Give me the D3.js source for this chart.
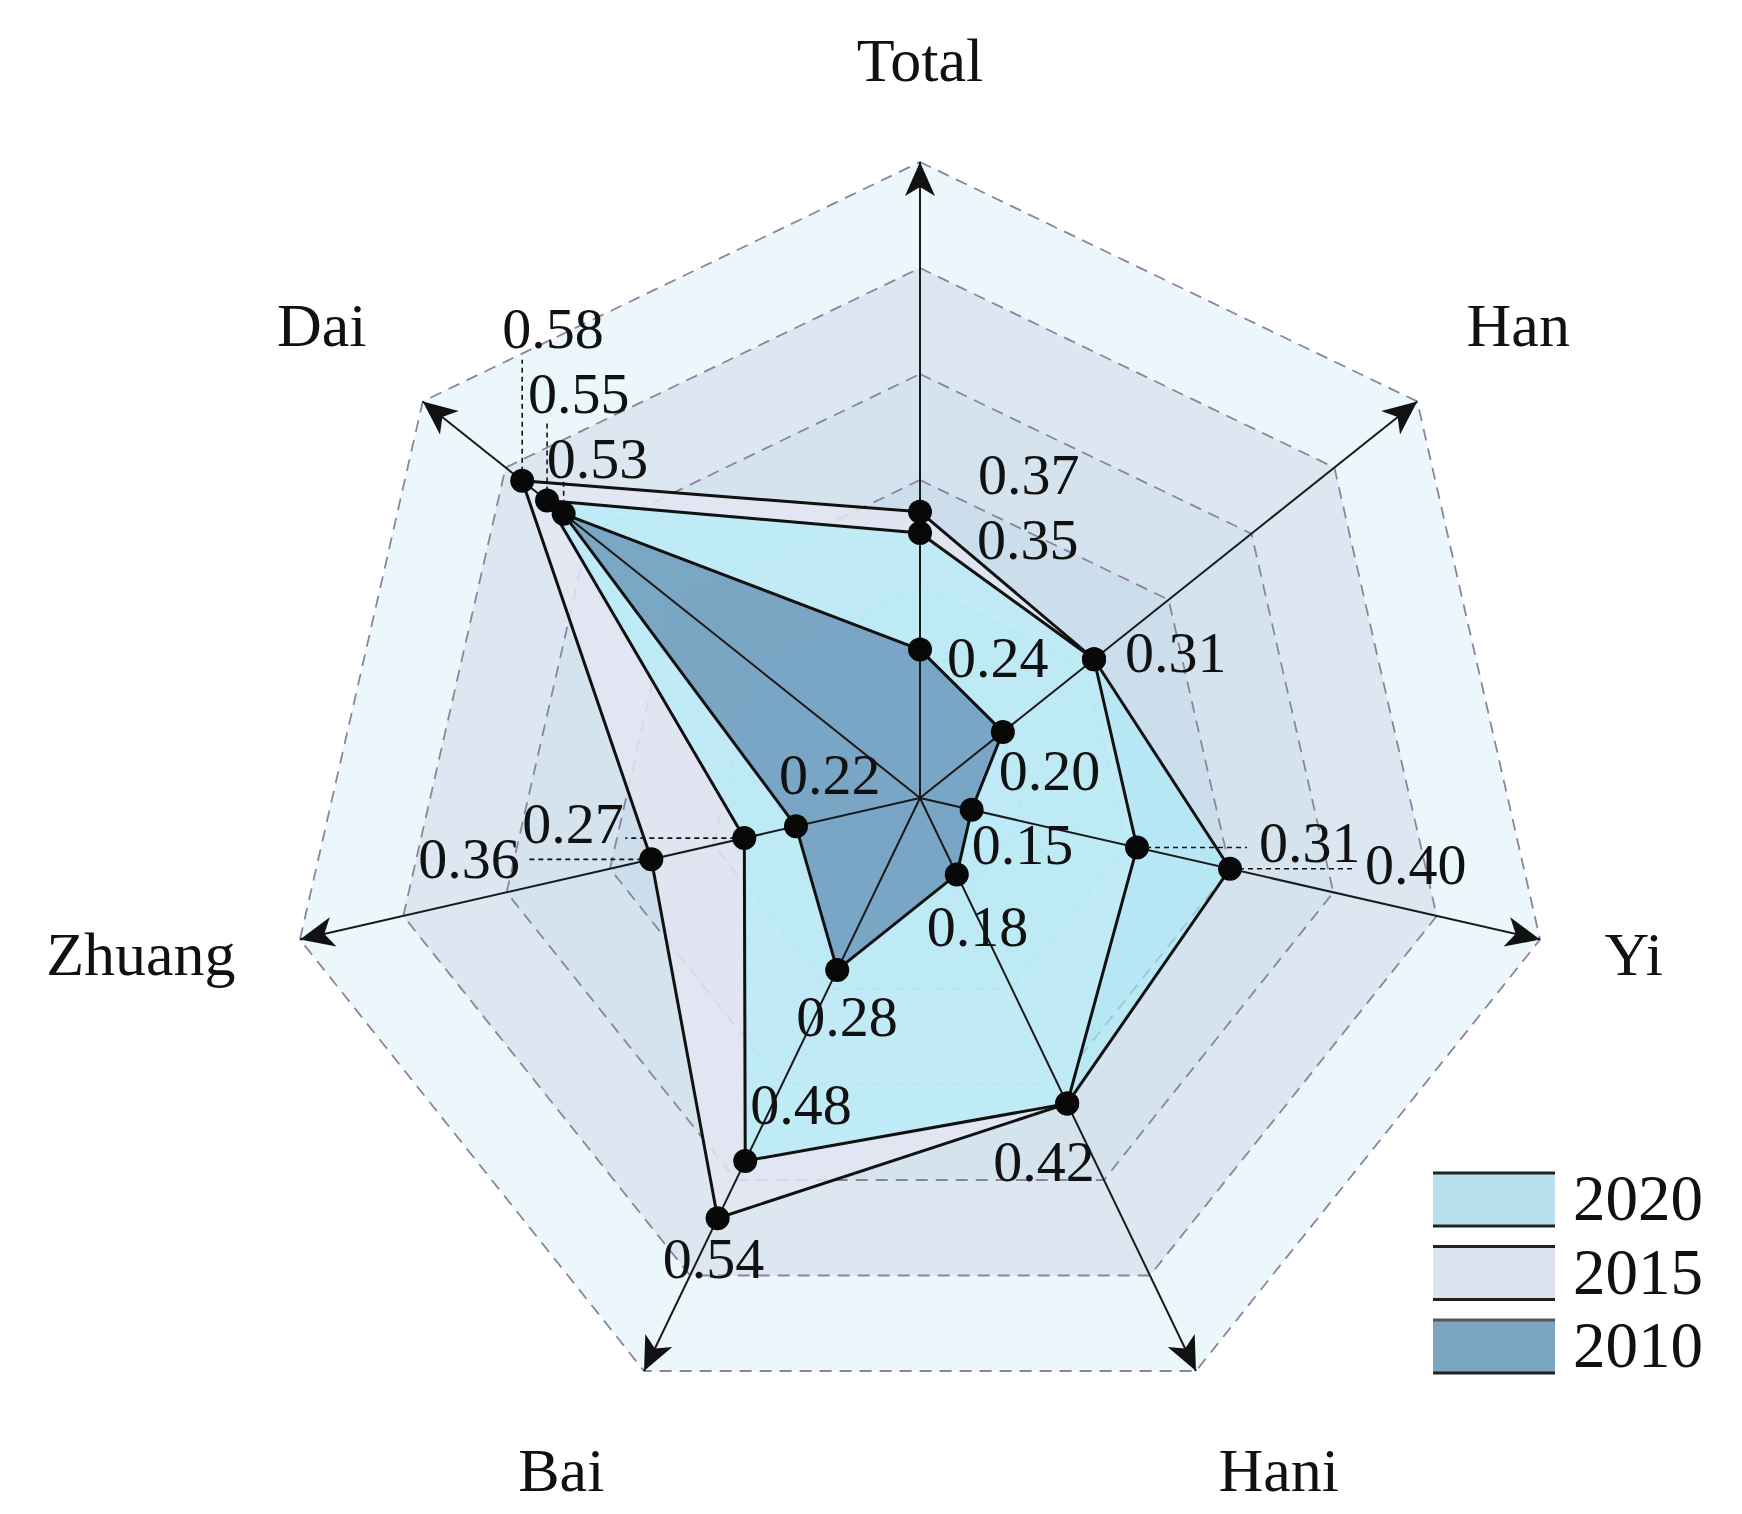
<!DOCTYPE html>
<html>
<head>
<meta charset="utf-8">
<script src="https://cdn.jsdelivr.net/npm/d3@7"></script>
<style>
  html, body { margin: 0; padding: 0; background: #fff; }
  svg text { font-family: "Times New Roman", "Liberation Serif", serif; fill: #111; }
</style>
</head>
<body>
<svg id="chart" width="1742" height="1514"></svg>
<script>
const axes = ["Total", "Han", "Yi", "Hani", "Bai", "Zhuang", "Dai"];
const years = ["2020", "2015", "2010"];
const values2020 = [0.35, 0.31, 0.40, 0.42, 0.48, 0.27, 0.55];
const values2015 = [0.37, 0.31, 0.31, 0.42, 0.54, 0.36, 0.58];
const values2010 = [0.24, 0.20, 0.15, 0.18, 0.28, 0.22, 0.53];
const ringTicks = [0.2, 0.3, 0.4, 0.5, 0.6, 0.7];

const width = 1742;
const height = 1514;
const cx = 920;
const cy = 798;
const R = 636;

const series = [
  { year: "2015", values: values2015, fill: "#e4e6f2", opacity: 0.85 },
  { year: "2020", values: values2020, fill: "#a9eef9", opacity: 0.62 },
  { year: "2010", values: values2010, fill: "#6a97b8", opacity: 0.82 },
];
const legendFill = { "2020": "#b7e0ef", "2015": "#dce2ee", "2010": "#7ba5c3" };

// label placement, offset from the dot (text start, baseline); lead = leader line
const labelPos = {
  "2020": [
    { dx: 57, dy: 26 }, { dx: 31, dy: 13 }, { dx: 135, dy: 15, lead: "h", len: 124 },
    { dx: -74, dy: 77 }, { dx: 5, dy: -37 }, { dx: -222, dy: 5, lead: "h", len: -119 },
    { dx: -19, dy: -88, lead: "v", len: -80 },
  ],
  "2015": [
    { dx: 58, dy: -18 }, null, { dx: 122, dy: 14, lead: "h", len: 110 },
    null, { dx: -55, dy: 60 }, { dx: -233, dy: 19, lead: "h", len: -123 },
    { dx: -20, dy: -133, lead: "v", len: -121 },
  ],
  "2010": [
    { dx: 27, dy: 27 }, { dx: -4, dy: 58 }, { dx: 0, dy: 54 },
    { dx: -30, dy: 72 }, { dx: -41, dy: 66 }, { dx: -17, dy: -32 },
    { dx: -17, dy: -36, lead: "v", len: -34 },
  ],
};
const axisNudge = [[0, 8], [15, -8], [0, 0], [35, 0], [-35, 0], [0, 0], [-15, -8]];

const rScale = d3.scaleLinear().domain([0.1, 0.7]).range([0, R]);
const aScale = d3.scaleLinear().domain([0, axes.length]).range([0, 2 * Math.PI]);

function pt(i, v) {
  const a = aScale(i), r = rScale(v);
  return [cx + r * Math.sin(a), cy - r * Math.cos(a)];
}

const svg = d3.select("#chart");
const g = svg.append("g").attr("transform", `translate(${cx},${cy})`);

const radial = d3.lineRadial()
  .angle((d, i) => aScale(i))
  .radius((d) => rScale(d))
  .curve(d3.curveLinearClosed);

// background rings, outer first
const ringColor = d3.scaleLinear()
  .domain([0.2, 0.6, 0.7])
  .range(["#bcd5e6", "#dce7f1", "#ebf7fa"]);

ringTicks.slice().reverse().forEach((t) => {
  g.append("path")
    .attr("d", radial(axes.map(() => t)))
    .attr("fill", ringColor(t))
    .attr("stroke", "none");
});
ringTicks.forEach((t) => {
  g.append("path")
    .attr("d", radial(axes.map(() => t)))
    .attr("fill", "none")
    .attr("stroke", "#8a84a0")
    .attr("stroke-width", 1.8)
    .attr("stroke-dasharray", "12,8");
});

// arrow marker
svg.append("defs").append("marker")
  .attr("id", "arrow")
  .attr("markerUnits", "userSpaceOnUse")
  .attr("viewBox", "-36 -17 38 34")
  .attr("refX", 0)
  .attr("refY", 0)
  .attr("markerWidth", 38)
  .attr("markerHeight", 34)
  .attr("orient", "auto")
  .append("path")
  .attr("d", "M0,0 L-34,-15 L-25,0 L-34,15 Z")
  .attr("fill", "#111");

axes.forEach((name, i) => {
  const [x, y] = pt(i, 0.7);
  svg.append("line")
    .attr("x1", cx).attr("y1", cy)
    .attr("x2", x).attr("y2", y)
    .attr("stroke", "#1a1a1a")
    .attr("stroke-width", 2)
    .attr("marker-end", "url(#arrow)");
});

// series fills first, outlines on top of all fills
series.forEach((s) => {
  g.append("path")
    .attr("d", radial(s.values))
    .attr("fill", s.fill)
    .attr("fill-opacity", s.opacity)
    .attr("stroke", "none");
});
series.forEach((s) => {
  g.append("path")
    .attr("d", radial(s.values))
    .attr("fill", "none")
    .attr("stroke", "#111")
    .attr("stroke-width", 3)
    .attr("stroke-linejoin", "round");
});

// dots, leaders, value labels
const fmt = d3.format(".2f");
series.forEach((s) => {
  s.values.forEach((v, i) => {
    const [x, y] = pt(i, v);
    const lp = labelPos[s.year][i];
    if (lp && lp.lead) {
      svg.append("line")
        .attr("x1", x).attr("y1", y)
        .attr("x2", lp.lead === "h" ? x + lp.len : x)
        .attr("y2", lp.lead === "v" ? y + lp.len : y)
        .attr("stroke", "#111")
        .attr("stroke-width", 1.6)
        .attr("stroke-dasharray", "5,4");
    }
  });
});
series.forEach((s) => {
  s.values.forEach((v, i) => {
    const [x, y] = pt(i, v);
    svg.append("circle")
      .attr("cx", x).attr("cy", y)
      .attr("r", 12)
      .attr("fill", "#080808");
  });
});
series.forEach((s) => {
  s.values.forEach((v, i) => {
    const lp = labelPos[s.year][i];
    if (!lp) return;
    const [x, y] = pt(i, v);
    svg.append("text")
      .attr("x", x + lp.dx)
      .attr("y", y + lp.dy)
      .attr("font-size", 58)
      .text(fmt(v));
  });
});

// axis names
axes.forEach((name, i) => {
  const a = aScale(i);
  const s = Math.sin(a);
  const side = Math.abs(s) > 0.9;
  const rr = side ? R + 66 : R + 110;
  const x = cx + rr * s + axisNudge[i][0];
  const y = cy - rr * Math.cos(a) + axisNudge[i][1];
  svg.append("text")
    .attr("x", x)
    .attr("y", y)
    .attr("font-size", 62)
    .attr("dominant-baseline", "central")
    .attr("text-anchor", side ? (s > 0 ? "start" : "end") : "middle")
    .text(name);
});

// legend: swatches with only top and bottom rules
const legend = svg.append("g").attr("transform", "translate(1433,1173)");
years.forEach((yr, i) => {
  const row = legend.append("g").attr("transform", `translate(0,${i * 73.5})`);
  row.append("rect")
    .attr("width", 122).attr("height", 53)
    .attr("fill", legendFill[yr]);
  row.append("line").attr("x1", 0).attr("x2", 122).attr("y1", 0).attr("y2", 0)
    .attr("stroke", i === 2 ? "#555" : "#222").attr("stroke-width", 3);
  row.append("line").attr("x1", 0).attr("x2", 122).attr("y1", 53).attr("y2", 53)
    .attr("stroke", "#222").attr("stroke-width", 3);
  row.append("text")
    .attr("x", 140).attr("y", 47)
    .attr("font-size", 65)
    .text(yr);
});
</script>
</body>
</html>
